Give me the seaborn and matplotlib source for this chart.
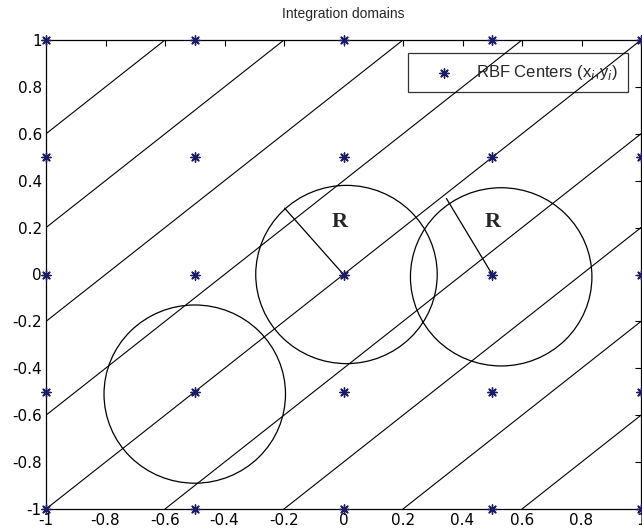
import numpy as np
import pandas as pd
import seaborn as sns
import matplotlib
matplotlib.use("Agg")
import matplotlib.pyplot as plt
from matplotlib.patches import Ellipse

# ---- data ----
grid_vals = [-1.0, -0.5, 0.0, 0.5, 1.0]
line_offsets = [-1.6, -1.2, -0.8, -0.4, 0.0, 0.4, 0.8, 1.2, 1.6]   # y = x + c
circle_cx = [0.01, 0.53, -0.50]
circle_cy = [0.00, -0.01, -0.51]
circle_rx = 0.305
circle_ry = 0.38
radius_start_x = [0.0, 0.5]
radius_start_y = [0.0, 0.0]
radius_end_x = [-0.198, 0.346]
radius_end_y = [0.283, 0.324]
label_x = [-0.013, 0.50]
label_y = [0.223, 0.223]
ticks = [-1, -0.8, -0.6, -0.4, -0.2, 0, 0.2, 0.4, 0.6, 0.8, 1]
tick_labels = ["-1", "-0.8", "-0.6", "-0.4", "-0.2", "0", "0.2", "0.4", "0.6", "0.8", "1"]

sns.set_style("white")
plt.rcParams['font.family'] = ['Liberation Sans', 'DejaVu Sans']

fig = plt.figure(figsize=(6.42, 5.31), dpi=100)
ax = fig.add_axes([46/642, 22/531, 595/642, 469/531])

# lines
for c in line_offsets:
    x0 = max(-1, -1 - c)
    x1 = min(1, 1 - c)
    sns.lineplot(x=[x0, x1], y=[x0 + c, x1 + c], ax=ax, color="black", lw=0.8)

# circles
for cx, cy in zip(circle_cx, circle_cy):
    ax.add_patch(Ellipse((cx, cy), 2 * circle_rx, 2 * circle_ry, fill=False,
                         edgecolor="black", lw=0.9))

# radius lines
for sx, sy, ex, ey in zip(radius_start_x, radius_start_y, radius_end_x, radius_end_y):
    sns.lineplot(x=[sx, ex], y=[sy, ey], ax=ax, color="black", lw=0.9)

# R labels
for lx, ly in zip(label_x, label_y):
    ax.text(lx, ly, "R", fontsize=16, fontweight="bold", family="Liberation Serif",
            ha="center", va="center")

# centers
gx, gy = np.meshgrid(grid_vals, grid_vals)
df = pd.DataFrame({"x": gx.ravel(), "y": gy.ravel()})
sns.scatterplot(data=df, x="x", y="y", ax=ax, marker=(8, 2, 0), s=45,
                color="#1c1c66", linewidth=1.0, edgecolor="#1c1c66",
                label="RBF Centers (x$_i$,y$_i$)", clip_on=False, zorder=5)

ax.set_xlim(-1, 1)
ax.set_ylim(-1, 1)
ax.set_xticks(ticks)
ax.set_xticklabels(tick_labels, family="DejaVu Sans")
ax.set_yticks(ticks)
ax.set_yticklabels(tick_labels, family="DejaVu Sans")
ax.tick_params(direction="in", length=4, width=0.8, labelsize=11, pad=3,
               top=True, right=True, colors="black")
for s in ax.spines.values():
    s.set_visible(True)
    s.set_color("black")
    s.set_linewidth(0.9)
ax.set_xlabel("")
ax.set_ylabel("")
ax.set_title("Integration domains", fontsize=10, pad=16)

leg = ax.legend(loc="upper right", fontsize=12, frameon=True, fancybox=False,
                borderaxespad=0.8, handlelength=3.2, handletextpad=0.3,
                borderpad=0.6)
leg.get_frame().set_edgecolor("black")
leg.get_frame().set_facecolor("none")
leg.get_frame().set_linewidth(0.9)

fig.savefig("out.png", dpi=100)
